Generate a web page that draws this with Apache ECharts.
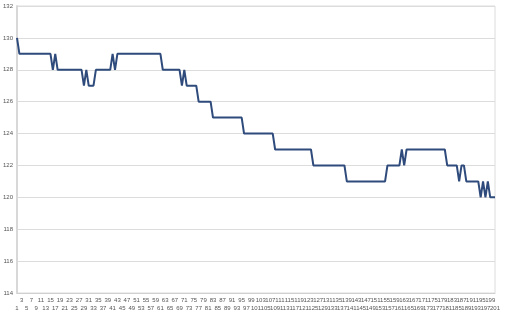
<!DOCTYPE html>
<html><head><meta charset="utf-8">
<script src="https://cdn.jsdelivr.net/npm/echarts@6/dist/echarts.min.js"></script>
<style>html,body{margin:0;padding:0;background:#fff}#c{width:506px;height:318px}</style>
</head><body><div id="c"></div>
<script>
const categories = [];
for (let i = 1; i <= 201; i++) categories.push(String(i));
const values = [
130,
129,129,129,129,129,129,129,129,129,129,129,129,129,129,
128,129,
128,128,128,128,128,128,128,128,128,128,128,
127,128,127,127,127,
128,128,128,128,128,128,128,
129,128,
129,129,129,129,129,129,129,129,129,129,129,129,129,129,129,129,129,129,129,
128,128,128,128,128,128,128,128,
127,128,
127,127,127,127,127,
126,126,126,126,126,126,
125,125,125,125,125,125,125,125,125,125,125,125,125,
124,124,124,124,124,124,124,124,124,124,124,124,124,
123,123,123,123,123,123,123,123,123,123,123,123,123,123,123,123,
122,122,122,122,122,122,122,122,122,122,122,122,122,122,
121,121,121,121,121,121,121,121,121,121,121,121,121,121,121,121,121,
122,122,122,122,122,122,
123,122,
123,123,123,123,123,123,123,123,123,123,123,123,123,123,123,123,123,
122,122,122,122,122,
121,122,122,
121,121,121,121,121,121,
120,121,120,121,
120,120,120
];
const yMin = 114, yMax = 132, yStep = 2;

const chart = echarts.init(document.getElementById('c'), null, {renderer: 'canvas'});
chart.setOption({
  animation: false,
  backgroundColor: '#fff',
  grid: {left: 16, right: 11, top: 6, bottom: 25, show: true, borderColor: '#dcdcdc', borderWidth: 1},
  xAxis: {
    type: 'category', data: categories, boundaryGap: false,
    axisLine: {lineStyle: {color: '#d0d0d0', width: 1}},
    axisTick: {show: false},
    axisLabel: {
      interval: 0, hideOverlap: false,
      fontSize: 6, color: '#555', margin: 3, lineHeight: 8,
      fontFamily: 'Liberation Sans',
      formatter: function (v, idx) {
        if (idx % 2 === 1) return '';
        return (idx % 4 === 0) ? '\n' + v : v + '\n';
      }
    },
    splitLine: {show: false}
  },
  yAxis: {
    type: 'value', min: yMin, max: yMax, interval: yStep,
    axisLine: {show: true, lineStyle: {color: '#d8d8d8', width: 2}},
    axisTick: {show: false},
    axisLabel: {fontSize: 6, color: '#555', margin: 4, fontFamily: 'Liberation Sans'},
    splitLine: {lineStyle: {color: '#dcdcdc', width: 1}}
  },
  series: [{
    type: 'line', data: values, showSymbol: false,
    lineStyle: {color: '#2f4b7c', width: 2},
    itemStyle: {color: '#2f4b7c'}
  }]
});
</script></body></html>
